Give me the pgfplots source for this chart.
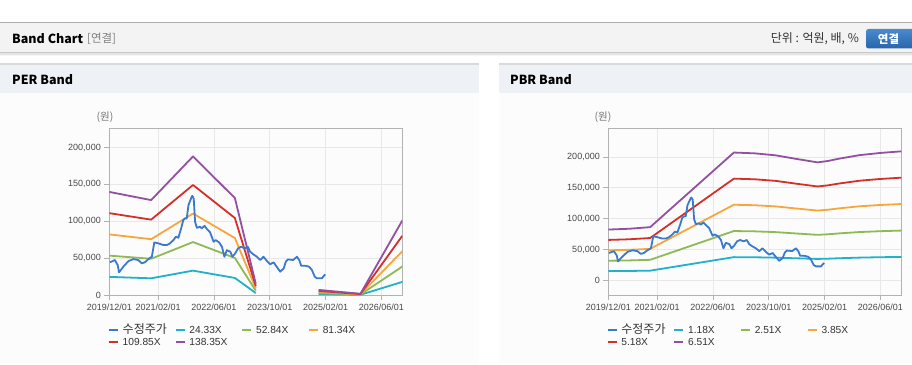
\documentclass[border=0pt]{standalone}
\usepackage{pgfplots}
\pgfplotsset{compat=1.18}
\usepackage{pgfplotstable}
\usepackage{fontspec}
\setmainfont{Liberation Sans}
\newfontfamily\kr{Noto Sans CJK KR}
\definecolor{cPrice}{RGB}{58,122,204}
\definecolor{cA}{RGB}{32,178,200}
\definecolor{cB}{RGB}{143,185,84}
\definecolor{cC}{RGB}{247,166,62}
\definecolor{cD}{RGB}{213,48,39}
\definecolor{cE}{RGB}{147,80,160}
\definecolor{gridc}{RGB}{232,232,232}
\definecolor{axc}{RGB}{178,178,178}
\definecolor{tickc}{RGB}{72,72,72}
\definecolor{legc}{RGB}{51,51,51}
\definecolor{hdrbg}{RGB}{243,243,243}
\definecolor{panbg}{RGB}{238,242,247}
\definecolor{bodybg}{RGB}{252,252,253}
\definecolor{btntop}{RGB}{74,138,205}
\definecolor{btnbot}{RGB}{40,100,170}

\newcommand{\lgt}[1]{\makebox[52pt][l]{\rule[-3pt]{0pt}{12pt}\fontsize{10.2}{12}\selectfont #1}}
\newcommand{\lgk}[1]{\makebox[52pt][l]{\rule[-3pt]{0pt}{12pt}\kr\fontsize{12}{13}\selectfont #1}}

\pgfplotstableread{
m v
0.2 44300
1.6 47400
2.4 40600
2.8 30700
4.0 38300
5.5 46000
6.9 48700
8.3 47400
9.3 42900
10.2 44300
11.2 48700
12.2 51900
12.9 71300
14.1 70000
15.5 67700
16.5 67700
17.4 70000
18.4 74500
19.1 79000
19.8 77600
20.6 90300
21.2 101500
21.7 103800
22.2 103800
22.7 121900
23.5 131700
23.8 134500
24.2 130900
24.6 99200
25.1 91100
26.0 92500
26.5 90300
27.3 93800
28.0 89400
28.9 84900
29.9 72200
30.5 74500
31.5 71300
32.3 65400
33.0 51900
33.7 60900
34.7 58600
35.3 51900
36.1 56400
36.9 63200
37.8 65400
38.8 63200
39.7 65400
40.4 58600
41.3 55100
42.3 51900
43.3 47400
44.2 51900
45.2 46000
46.1 41600
47.1 44300
48.0 38300
49.0 31600
50.0 36100
50.6 45100
51.2 48300
52.7 47400
53.8 51900
54.5 47000
55.0 39700
56.2 39700
57.3 38300
58.1 33800
58.9 24800
59.5 22600
61.0 22600
61.3 24800
61.9 28000
}\pricetable

\pgfplotsset{bandaxis/.style={
  scale only axis, width=293pt, height=166.7pt,
  xmin=0, xmax=84,
  xtick={0,14,30,46,62,78},
  xticklabels={2019/12/01,2021/02/01,2022/06/01,2023/10/01,2025/02/01,2026/06/01},
  ytick={0,50000,100000,150000,200000},
  yticklabels={0,{50,000},{100,000},{150,000},{200,000}},
  scaled y ticks=false, scaled x ticks=false,
  grid=major, major grid style={gridc, line width=0.8pt},
  axis line style={axc, line width=1pt},
  tick style={axc, line width=0.8pt},
  tick align=outside, major tick length=5pt,
  xtick pos=bottom, ytick pos=left,
  ticklabel style={font=\fontsize{9}{10}\selectfont, text=tickc},
  unbounded coords=jump,
  legend columns=4,
  legend style={draw=none, fill=none, inner sep=0pt, outer sep=0pt,
     text=legc, nodes={inner sep=0pt},
     /tikz/every odd column/.append style={column sep=3.7pt},
     row sep=1.3pt, cells={anchor=west}},
  legend image code/.code={\draw[#1, line width=2pt] (0pt,0pt) -- (9pt,0pt);},
  every axis plot/.append style={line width=1.8pt, line join=round},
}}

\begin{document}
\begin{tikzpicture}[x=1pt,y=1pt]
\path[use as bounding box] (0,0) rectangle (912,364);
\fill[white] (0,0) rectangle (912,364);
% header
\fill[hdrbg] (0,312) rectangle (912,341);
\fill[black!22] (0,310.6) rectangle (912,312);
\fill[black!10] (0,309.2) rectangle (912,310.6);
\fill[black!4] (0,308) rectangle (912,309.2);
\draw[black!32, line width=1.3pt] (0,341.4) -- (912,341.4);
\node[anchor=west, inner sep=0pt] at (12,325.6) {\kr\bfseries\fontsize{12.5}{14}\selectfont Band Chart};
\node[anchor=west, inner sep=0pt, text=black!50] at (87,325.6) {\kr\fontsize{11.5}{13}\selectfont [연결]};
\node[anchor=east, inner sep=0pt, text=legc] at (859,325.2) {\kr\fontsize{12}{13}\selectfont 단위 : 억원, 배, \%};
\shade[top color=btntop, bottom color=btnbot, rounded corners=2.5pt] (866,315.5) rectangle (918,335);
\node[inner sep=0pt, text=white] at (888.5,325.3) {\kr\bfseries\fontsize{11.5}{13}\selectfont 연결};
% panels
\fill[bodybg] (0,0) rectangle (479,271);
\fill[panbg] (0,271) rectangle (479,299.5);
\draw[black!15, line width=1.3pt] (0,300) -- (479,300);
\fill[bodybg] (499,0) rectangle (912,271);
\fill[panbg] (499,271) rectangle (912,299.5);
\draw[black!15, line width=1.3pt] (499,300) -- (912,300);
\node[anchor=west, inner sep=0pt] at (12,284) {\kr\bfseries\fontsize{12.5}{14}\selectfont PER Band};
\node[anchor=west, inner sep=0pt] at (510,284) {\kr\bfseries\fontsize{12.5}{14}\selectfont PBR Band};
\node[inner sep=0pt, text=black!55] at (105,246.5) {\kr\fontsize{10.5}{12}\selectfont (원)};
\node[inner sep=0pt, text=black!55] at (603,246.5) {\kr\fontsize{10.5}{12}\selectfont (원)};

% PER band
\begin{axis}[bandaxis, at={(109.3pt,69pt)}, anchor=south west,
  ymin=0, ymax=226000,
  legend style={at={(-0.0044,-0.174)}, anchor=north west}]
\addlegendimage{cPrice}\addlegendentry{\lgk{수정주가}}
\addlegendimage{cA}\addlegendentry{\lgt{24.33X}}
\addlegendimage{cB}\addlegendentry{\lgt{52.84X}}
\addlegendimage{cC}\addlegendentry{\lgt{81.34X}}
\addlegendimage{cD}\addlegendentry{\lgt{109.85X}}
\addlegendimage{cE}\addlegendentry{\lgt{138.35X}}
\addplot[cA, forget plot] coordinates {(0,24573) (12,22627) (24,33040) (36,23114) (42,2676) (50,nan) (60,1217) (72,292) (84,17761)};
\addplot[cB, forget plot] coordinates {(0,53368) (12,49141) (24,71757) (36,50198) (42,5812) (50,nan) (60,2642) (72,634) (84,38573)};
\addplot[cC, forget plot] coordinates {(0,82153) (12,75646) (24,110460) (36,77273) (42,8947) (50,nan) (60,4067) (72,976) (84,59378)};
\addplot[cD, forget plot] coordinates {(0,110949) (12,102161) (24,149176) (36,104358) (42,12084) (50,nan) (60,5493) (72,1318) (84,80191)};
\addplot[cE, forget plot] coordinates {(0,139734) (12,128666) (24,187879) (36,131433) (42,15219) (50,nan) (60,6918) (72,1660) (84,100996)};
\addplot[cPrice, forget plot] table[x=m, y=v] {\pricetable};
\end{axis}

% PBR band
\begin{axis}[bandaxis, at={(608.3pt,69pt)}, anchor=south west,
  ymin=-23860, ymax=246700,
  legend style={at={(-0.0055,-0.174)}, anchor=north west}]
\addlegendimage{cPrice}\addlegendentry{\lgk{수정주가}}
\addlegendimage{cA}\addlegendentry{\lgt{1.18X}}
\addlegendimage{cB}\addlegendentry{\lgt{2.51X}}
\addlegendimage{cC}\addlegendentry{\lgt{3.85X}}
\addlegendimage{cD}\addlegendentry{\lgt{5.18X}}
\addlegendimage{cE}\addlegendentry{\lgt{6.51X}}
\addplot[cA, forget plot] coordinates {(0,14927) (6,15163) (12,15635) (24,26609) (36,37583) (42,37347) (48,36757) (54,35695) (60,34692) (63,35105) (66,35754) (72,36816) (78,37465) (84,37937)};
\addplot[cB, forget plot] coordinates {(0,31752) (6,32254) (12,33258) (24,56601) (36,79944) (42,79442) (48,78187) (54,75928) (60,73794) (63,74673) (66,76053) (72,78312) (78,79693) (84,80697)};
\addplot[cC, forget plot] coordinates {(0,48703) (6,49473) (12,51013) (24,86818) (36,122623) (42,121853) (48,119928) (54,116463) (60,113190) (63,114538) (66,116655) (72,120120) (78,122238) (84,123778)};
\addplot[cD, forget plot] coordinates {(0,65527) (6,66563) (12,68635) (24,116809) (36,164983) (42,163947) (48,161357) (54,156695) (60,152292) (63,154105) (66,156954) (72,161616) (78,164465) (84,166537)};
\addplot[cE, forget plot] coordinates {(0,82352) (6,83654) (12,86258) (24,146801) (36,207344) (42,206042) (48,202787) (54,196928) (60,191394) (63,193673) (66,197253) (72,203112) (78,206693) (84,209297)};
\addplot[cPrice, forget plot] table[x=m, y=v] {\pricetable};
\end{axis}
\end{tikzpicture}
\end{document}
